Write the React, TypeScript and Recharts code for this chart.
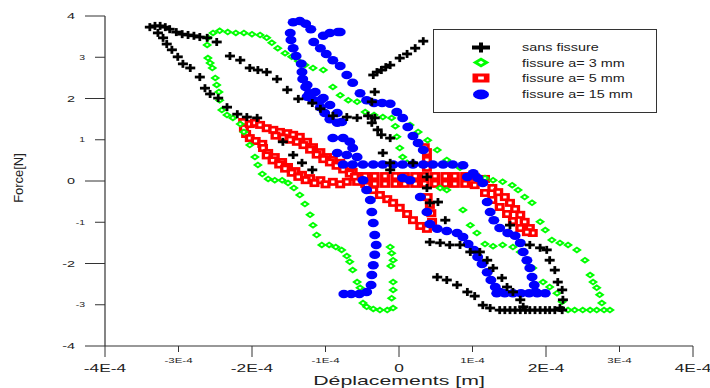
import React from 'react';
import { ScatterChart, Scatter, XAxis, YAxis } from 'recharts';

// displacement in units of 1E-4 m, force in N
const sansFissure: [number, number][] = [
  [-3.39, 3.73], [-3.32, 3.76], [-3.25, 3.76], [-3.18, 3.73], [-3.12, 3.68], [-3.03, 3.61],
  [-2.95, 3.56], [-2.87, 3.54], [-2.79, 3.52], [-2.71, 3.49], [-2.61, 3.47], [-2.48, 3.37],
  [-2.3, 3.03], [-2.16, 2.93], [-2.03, 2.74], [-1.92, 2.69], [-1.8, 2.64], [-1.66, 2.47],
  [-1.52, 2.21], [-1.37, 1.99], [-1.18, 1.89], [-1.07, 1.75], [-0.9, 1.58], [-0.71, 1.55],
  [-0.57, 1.53], [-0.42, 1.58], [-0.33, 1.53],
  [-3.28, 3.59], [-3.21, 3.47], [-3.16, 3.32], [-3.09, 3.18], [-3.01, 3.01], [-2.94, 2.84],
  [-2.84, 2.74], [-2.71, 2.52], [-2.64, 2.25], [-2.57, 2.11], [-2.46, 2.01], [-2.34, 1.79],
  [-2.2, 1.62], [-2.07, 1.55], [-1.93, 1.53], [-1.58, 0.95], [-1.44, 0.63], [-1.32, 0.44],
  [-1.18, 0.27],
  [-0.33, 2.16], [-0.37, 1.92], [-0.37, 1.41], [-0.29, 1.24], [-0.24, 1.12], [-0.12, 1.04],
  [-0.22, 0.68], [-0.12, 0.44], [-0.12, 0.27], [0.19, 0.44], [0.38, 0.1], [0.38, -0.17],
  [0.53, -0.51], [0.42, -0.53], [0.63, -0.95],
  [-0.35, 2.57], [-0.3, 2.64], [-0.24, 2.69], [-0.18, 2.76], [-0.12, 2.81], [0.01, 2.98],
  [0.11, 3.08], [0.22, 3.22], [0.33, 3.39],
  [0.42, -1.48], [0.56, -1.5], [0.69, -1.55], [0.83, -1.55], [0.97, -1.72], [1.1, -1.72],
  [1.2, -1.92], [1.28, -2.11], [1.4, -2.35], [1.47, -2.57], [1.55, -2.69], [1.65, -2.88],
  [1.69, -3.05],
  [0.52, -2.33], [0.65, -2.4], [0.79, -2.52], [0.93, -2.69], [1.03, -2.79], [1.14, -3.01],
  [1.24, -3.08], [1.37, -3.13], [1.44, -3.13], [1.51, -3.13], [1.58, -3.13], [1.65, -3.13],
  [1.72, -3.13], [1.78, -3.13], [1.85, -3.13], [1.92, -3.13], [1.99, -3.13], [2.05, -3.13],
  [2.12, -3.13], [2.22, -3.13],
  [1.51, -1.07], [1.78, -1.55], [1.92, -1.62], [2.01, -1.67], [2.05, -1.92], [2.12, -2.16],
  [2.16, -2.45], [2.22, -2.64], [2.23, -2.88], [2.19, -3.08],
];

const fissure3: [number, number][] = [
  [-2.61, 3.3], [-2.6, 3.47], [-2.53, 3.59], [-2.44, 3.64], [-2.33, 3.61], [-2.22, 3.59],
  [-2.11, 3.59], [-2.0, 3.56], [-1.89, 3.54], [-1.8, 3.47], [-1.73, 3.35], [-1.65, 3.22],
  [-1.55, 3.1], [-1.46, 3.01], [-1.37, 2.91], [-1.28, 2.81], [-1.17, 2.74], [-1.03, 2.69],
  [-0.9, 2.28], [-0.8, 2.08], [-0.69, 1.96], [-0.57, 1.92], [-0.46, 1.67], [-0.34, 1.6],
  [-0.22, 1.55], [-0.1, 1.53], [-0.05, 1.33], [0.15, 1.36], [0.26, 1.19], [0.39, 0.99],
  [0.52, 0.75], [0.65, 0.51], [-0.03, 1.07], [0.01, 0.8], [0.05, 0.58], [0.11, 0.44],
  [0.83, 0.32], [1.03, 0.17], [1.17, 0.07],
  [0.56, -0.17], [0.65, -0.22], [0.87, -0.7], [0.97, -1.07], [1.06, -1.26], [1.17, -1.53],
  [1.28, -1.58], [1.41, -1.55], [1.55, -1.6], [1.65, -1.72], [1.74, -1.96], [1.82, -2.11],
  [1.96, -2.45], [2.05, -2.57], [2.15, -2.72], [2.22, -2.93],
  [2.3, -3.13], [2.39, -3.13], [2.5, -3.13], [2.6, -3.13], [2.69, -3.13], [2.79, -3.13],
  [2.87, -3.13],
  [1.28, 0.02], [1.41, -0.02], [1.54, -0.1], [1.62, -0.22], [1.71, -0.39], [1.81, -0.53],
  [1.92, -0.99], [1.99, -1.19], [2.08, -1.43], [2.19, -1.5], [2.3, -1.55], [2.42, -1.67],
  [2.53, -1.92], [2.6, -2.28], [2.64, -2.45], [2.69, -2.59], [2.73, -2.76], [2.76, -2.96],
  [-2.6, 2.98], [-2.57, 2.86], [-2.54, 2.74], [-2.5, 2.5], [-2.48, 2.33], [-2.45, 2.16],
  [-2.44, 1.96], [-2.41, 1.72], [-2.34, 1.6], [-2.26, 1.53], [-2.16, 1.38], [-2.11, 1.19],
  [-2.03, 0.87], [-1.96, 0.58], [-1.92, 0.39], [-1.86, 0.17], [-1.78, 0.05], [-1.69, 0.02],
  [-1.59, 0.02], [-1.51, -0.05], [-1.43, -0.17], [-1.35, -0.34], [-1.28, -0.56], [-1.21, -0.82],
  [-1.17, -1.07], [-1.12, -1.31], [-1.05, -1.55], [-0.95, -1.55], [-0.86, -1.6], [-0.78, -1.67],
  [-0.71, -1.82], [-0.67, -1.96], [-0.63, -2.16], [-0.57, -2.45], [-0.53, -2.59], [-0.49, -2.96],
  [-0.44, -3.05], [-0.35, -3.1], [-0.26, -3.13], [-0.16, -3.13], [-0.08, -3.08],
  [-0.12, -1.6], [-0.1, -1.75], [-0.08, -1.92], [-0.11, -2.06], [-0.08, -2.45], [-0.08, -2.64],
  [-0.1, -2.84],
];

const fissure5: [number, number][] = [
  [-2.12, 1.43], [-2.11, 1.28], [-2.08, 1.14], [-2.03, 1.38], [-1.96, 1.41], [-1.89, 1.36],
  [-1.8, 1.28], [-2.03, 1.04], [-1.95, 0.97], [-1.86, 0.9],
  [-1.71, 1.24], [-1.62, 1.19], [-1.52, 1.16], [-1.44, 1.12], [-1.35, 1.07], [-1.25, 0.95],
  [-1.17, 0.82], [-1.07, 0.7], [-0.98, 0.58], [-0.9, 0.51], [-0.8, 0.44], [-0.71, 0.34],
  [-0.63, 0.22], [-0.56, 0.12],
  [-1.68, 1.1], [-1.58, 1.05], [-1.48, 1.0], [-1.39, 0.95], [-1.3, 0.87], [-1.21, 0.76],
  [-1.12, 0.64], [-1.03, 0.53], [-0.94, 0.45], [-0.85, 0.37], [-0.76, 0.28], [-0.67, 0.18],
  [-0.6, 0.1],
  [-1.85, 0.8], [-1.78, 0.68], [-1.69, 0.58], [-1.59, 0.46], [-1.51, 0.34], [-1.41, 0.24],
  [-1.32, 0.15], [-1.21, 0.07], [-1.07, 0.02], [-0.9, -0.02], [-0.71, -0.02], [-0.57, -0.02],
  [-1.8, 0.62], [-1.72, 0.5], [-1.63, 0.4], [-1.55, 0.3], [-1.46, 0.2], [-1.37, 0.1],
  [-1.27, 0.02], [-1.15, -0.05], [-1.0, -0.08], [-0.8, -0.08],
  [-0.46, 0.12], [-0.33, 0.12], [-0.19, 0.12], [-0.05, 0.12], [0.08, 0.12], [0.22, 0.12],
  [0.35, 0.12], [0.49, 0.12], [0.63, 0.12], [0.76, 0.12], [0.9, 0.12], [1.03, 0.1], [1.17, 0.05],
  [-0.46, -0.07], [-0.33, -0.07], [-0.19, -0.07], [-0.05, -0.07], [0.08, -0.07], [0.22, -0.07],
  [0.35, -0.07], [0.49, -0.07], [0.63, -0.07], [0.76, -0.07], [0.9, -0.07], [1.03, -0.1],
  [1.27, -0.17], [1.35, -0.27], [1.44, -0.39], [1.51, -0.53], [1.58, -0.68], [1.65, -0.82],
  [1.71, -0.99], [1.78, -1.14], [1.82, -1.26],
  [1.17, -0.29], [1.27, -0.46], [1.37, -0.63], [1.47, -0.8], [1.55, -0.97], [1.65, -1.14],
  [1.74, -1.24],
  [-0.44, -0.12], [-0.35, -0.22], [-0.26, -0.34], [-0.16, -0.44], [-0.08, -0.53], [0.01, -0.65],
  [0.11, -0.8], [0.19, -0.95], [0.29, -1.09], [0.38, -1.16],
  [0.45, -0.99], [0.44, -0.78], [0.42, -0.58], [0.39, -0.39], [0.38, 0.32], [0.38, 0.51],
  [0.38, 0.7], [0.35, 0.82],
];

const fissure15: [number, number][] = [
  [-1.44, 3.85], [-1.35, 3.88], [-1.27, 3.81], [-1.2, 3.68], [-1.48, 3.59], [-1.47, 3.42],
  [-1.44, 3.22], [-1.4, 3.03], [-1.33, 2.84], [-1.32, 2.64], [-1.31, 2.47], [-1.27, 2.28],
  [-1.22, 2.13], [-1.16, 1.96], [-1.07, 1.79], [-1.01, 1.65], [-0.94, 1.5], [-0.84, 1.41],
  [-1.16, 3.37], [-1.07, 3.22], [-0.99, 3.08], [-0.9, 2.93], [-0.8, 2.79], [-0.71, 2.57],
  [-0.63, 2.38], [-0.53, 2.13], [-0.44, 1.96], [-0.34, 1.89], [-0.23, 1.89], [-0.12, 1.87],
  [-0.03, 1.67], [0.05, 1.53], [0.12, 1.31], [0.19, 1.09], [0.26, 0.92], [0.33, 0.75],
  [-1.03, 3.52], [-0.94, 3.59], [-0.83, 3.61], [-0.8, 3.61],
  [-1.25, 2.33], [-1.14, 2.16], [-1.03, 2.01], [-0.94, 1.84], [-0.84, 1.65], [-0.78, 1.43],
  [-1.25, 2.04], [-1.17, 1.96], [-1.07, 1.96],
  [-0.9, 1.04], [-0.76, 1.04], [-0.67, 0.95], [-0.63, 0.8], [-0.84, 0.68], [-0.71, 0.63],
  [-0.57, 0.58],
  [-0.76, 0.4], [-0.63, 0.4], [-0.49, 0.4], [-0.35, 0.4], [-0.22, 0.4], [-0.08, 0.4],
  [0.05, 0.4], [0.19, 0.4], [0.33, 0.4], [0.46, 0.4], [0.6, 0.4], [0.73, 0.4], [0.87, 0.38],
  [1.01, 0.19], [1.07, 0.07], [1.14, -0.05], [0.93, 0.1], [0.05, 0.07], [0.15, 0.02],
  [1.2, -0.51], [1.24, -0.75], [1.29, -0.95], [1.37, -1.14], [1.48, -1.26], [1.58, -1.33],
  [1.65, -1.5], [1.69, -1.72], [1.74, -1.92], [1.78, -2.11], [1.81, -2.33], [1.84, -2.52],
  [1.86, -2.69],
  [1.33, -2.72], [1.44, -2.72], [1.55, -2.72], [1.66, -2.72], [1.77, -2.72], [1.88, -2.72],
  [1.99, -2.72],
  [-0.49, 0.02], [-0.44, -0.22], [-0.39, -0.46], [-0.37, -0.75], [-0.35, -1.02], [-0.33, -1.31],
  [-0.31, -1.55], [-0.33, -1.79], [-0.35, -2.04], [-0.37, -2.28], [-0.38, -2.52], [-0.44, -2.69],
  [-0.54, -2.74], [-0.65, -2.74], [-0.75, -2.74],
  [0.29, -0.39], [0.38, -0.75], [0.42, -1.04], [0.52, -1.16], [0.65, -1.21], [0.79, -1.26],
  [0.87, -1.36], [0.94, -1.53], [1.02, -1.67], [1.07, -1.84], [1.13, -2.01], [1.2, -2.21],
  [1.25, -2.4], [1.31, -2.57], [1.37, -2.69],
];

const X_TICKS = [-4, -3, -2, -1, 0, 1, 2, 3, 4];
const Y_TICKS = [-4, -3, -2, -1, 0, 1, 2, 3, 4];

const LEGEND = ['sans fissure', 'fissure a= 3 mm', 'fissure a= 5 mm', 'fissure a= 15 mm'];

const GREEN = '#00ff00';
const RED = '#ff0000';
const BLUE = '#0000ff';
const AXIS = '#333';
const FONT = '"Liberation Sans", Arial, sans-serif';

const toPoints = (pts: [number, number][]) => pts.map(([x, y]) => ({ x, y }));

const Cross = ({ cx, cy, w = 10, h = 8, t = 2.8 }: any) => (
  <g>
    <rect x={cx - w / 2} y={cy - t / 2} width={w} height={t} fill="#000" />
    <rect x={cx - t / 2} y={cy - h / 2} width={t} height={h} fill="#000" />
  </g>
);

const Diamond = ({ cx, cy, w = 10, h = 7 }: any) => (
  <g>
    <polygon
      points={`${cx - w / 2},${cy} ${cx},${cy - h / 2} ${cx + w / 2},${cy} ${cx},${cy + h / 2}`}
      fill={GREEN}
    />
    <polygon
      points={`${cx - w / 6},${cy} ${cx},${cy - h / 6} ${cx + w / 6},${cy} ${cx},${cy + h / 6}`}
      fill="#fff"
    />
  </g>
);

const Square = ({ cx, cy, w = 10, h = 8 }: any) => (
  <g>
    <rect x={cx - w / 2} y={cy - h / 2} width={w} height={h} fill={RED} />
    <rect x={cx - w / 6} y={cy - h / 6} width={w / 3} height={h / 3} fill="#fff" />
  </g>
);

const Dot = ({ cx, cy, w = 11, h = 8.5 }: any) => (
  <ellipse cx={cx} cy={cy} rx={w / 2} ry={h / 2} fill={BLUE} />
);

const tickText = (v: number) => (v === 0 ? '0' : `${v}E-4`);

const XTick = ({ x, y, payload }: any) => {
  const v = payload.value;
  const major = v % 2 === 0;
  return (
    <g>
      <line x1={x} y1={y} x2={x} y2={y + (major ? 11 : 6)} stroke={AXIS} />
      <text
        transform={`translate(${x},${y + (major ? 26 : 17)}) scale(1.65,1)`}
        textAnchor="middle"
        fontSize={major ? 10.5 : 7}
        fontFamily={FONT}
        fill="#222"
      >
        {tickText(v)}
      </text>
    </g>
  );
};

const YTick = ({ x, y, payload }: any) => {
  const v = payload.value;
  const major = v % 2 === 0;
  return (
    <g>
      <line x1={x - (major ? 20 : 10)} y1={y} x2={x} y2={y} stroke={AXIS} />
      <text
        transform={`translate(${x - (major ? 30 : 20)},${y + (major ? 3.2 : 2.4)}) scale(1.6,1)`}
        textAnchor="end"
        fontSize={major ? 9 : 6.5}
        fontFamily={FONT}
        fill="#222"
      >
        {v}
      </text>
    </g>
  );
};

const legendMarks = [
  <Cross cx={481} cy={47.5} w={18} h={10} t={4} />,
  <Diamond cx={481} cy={62.5} w={17} h={10} />,
  <Square cx={481} cy={78} w={17} h={9} />,
  <Dot cx={481} cy={94.5} w={16} h={10} />,
];

export default function App() {
  return (
    <div style={{ position: 'absolute', left: 0, top: 0, width: 710, height: 388, background: '#fff' }}>
      <ScatterChart width={710} height={388} margin={{ top: 16, right: 17, bottom: 12, left: 45 }}>
        <XAxis
          type="number"
          dataKey="x"
          domain={[-4, 4]}
          ticks={X_TICKS}
          interval={0}
          height={30}
          tickSize={0}
          tickMargin={0}
          tickLine={false}
          axisLine={{ stroke: AXIS, strokeWidth: 1.2 }}
          tick={<XTick />}
          allowDataOverflow
        />
        <YAxis
          type="number"
          dataKey="y"
          domain={[-4, 4]}
          ticks={Y_TICKS}
          interval={0}
          width={60}
          tickSize={0}
          tickMargin={0}
          tickLine={false}
          axisLine={{ stroke: AXIS, strokeWidth: 1.2 }}
          tick={<YTick />}
          allowDataOverflow
        />
        <Scatter data={toPoints(fissure5)} shape={Square} isAnimationActive={false} />
        <Scatter data={toPoints(fissure3)} shape={Diamond} isAnimationActive={false} />
        <Scatter data={toPoints(fissure15)} shape={Dot} isAnimationActive={false} />
        <Scatter data={toPoints(sansFissure)} shape={Cross} isAnimationActive={false} />
      </ScatterChart>
      <svg
        width={710}
        height={388}
        style={{ position: 'absolute', left: 0, top: 0, pointerEvents: 'none' }}
      >
        <rect x={433.5} y={29.5} width={223} height={83} fill="#fff" stroke={AXIS} strokeWidth={1} />
        {legendMarks.map((m, i) => (
          <g key={i}>{m}</g>
        ))}
        {LEGEND.map((name, i) => (
          <text
            key={name}
            transform={`translate(522,${51 + i * 15.7}) scale(1.31,1)`}
            fontSize={11}
            fontFamily={FONT}
            fill="#222"
          >
            {name}
          </text>
        ))}
        <text
          transform="translate(399,385) scale(1.64,1)"
          textAnchor="middle"
          fontSize={13}
          fontFamily={FONT}
          fill="#222"
        >
          Déplacements [m]
        </text>
        <text
          transform="translate(23,178) rotate(-90) scale(1.08,1)"
          textAnchor="middle"
          fontSize={12}
          fontFamily={FONT}
          fill="#222"
        >
          Force[N]
        </text>
      </svg>
    </div>
  );
}
